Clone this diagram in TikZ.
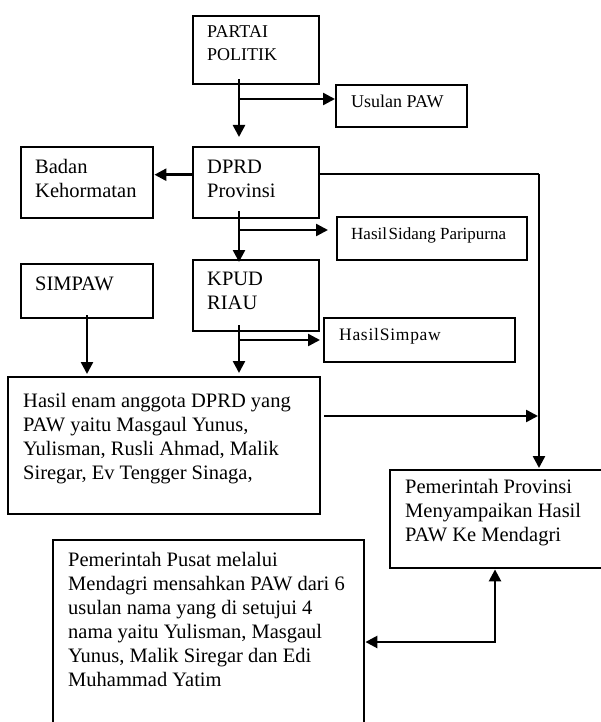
\documentclass[tikz,border=0pt]{standalone}
\usepackage{fontspec}
\setmainfont{Liberation Serif}
\newfontfamily\spacedserif[LetterSpace=4]{Liberation Serif}
\usetikzlibrary{arrows.meta,calc}
\tikzset{
  box/.style={draw=black, line width=2.4pt, rectangle, inner sep=0pt, anchor=north west},
  big/.style={inner sep=0pt, anchor=base west, align=left, font=\fontsize{20.5}{24}\selectfont},
  small/.style={inner sep=0pt, anchor=base west, align=left, font=\fontsize{18}{23}\selectfont},
  arr/.style={line width=2.5pt, -{Triangle[length=12pt,width=12pt]}},
  arrtwo/.style={line width=2.5pt, {Triangle[length=12pt,width=12pt]}-{Triangle[length=12pt,width=12pt]}},
  plain/.style={line width=2.5pt}
}
\begin{document}
\begin{tikzpicture}[x=1pt,y=-1pt]
\useasboundingbox (0,0) rectangle (601,722);
\clip (0,0) rectangle (601,722);
% boxes
\node[box, minimum width=126pt, minimum height=68pt] (partai) at (192,15) {};
\node[box, minimum width=131pt, minimum height=42pt] (usulan) at (335,84) {};
\node[box, minimum width=132pt, minimum height=71pt] (badan) at (20,146) {};
\node[box, minimum width=126pt, minimum height=71pt] (dprd) at (192,146) {};
\node[box, minimum width=190pt, minimum height=43pt] (sidang) at (336,216) {};
\node[box, minimum width=132pt, minimum height=54pt] (simpaw) at (20,263) {};
\node[box, minimum width=126pt, minimum height=71pt] (kpud) at (192,259) {};
\node[box, minimum width=191pt, minimum height=44pt] (hsimpaw) at (323,317) {};
\node[box, minimum width=312pt, minimum height=137pt] (hasil) at (7,376) {};
\node[box, minimum width=240pt, minimum height=98pt] (prov) at (389,469) {};
\node[box, minimum width=311pt, minimum height=220pt] (pusat) at (52,539) {};
% texts (base anchor = baseline of the last line)
\node[small] (tpartai) at (207,61) {PARTAI\\POLITIK};
\node[small] (tusulan) at (351,108) {Usulan PAW};
\node[big] (tbadan) at (35,197) {Badan\\Kehormatan};
\node[big] (tdprd) at (207,197) {DPRD\\Provinsi};
\node[small, font=\fontsize{17}{20}\selectfont] (tsidang) at (351,239) {Hasil\hspace{1.5pt}Sidang Paripurna};
\node[big] (tsimpaw) at (35,290) {SIMPAW};
\node[big] (tkpud) at (207,309) {KPUD\\RIAU};
\node[small, font=\spacedserif\fontsize{17.5}{20}\selectfont] (thsimpaw) at (339,340) {Hasil\hspace{1pt}Simpaw};
\node[big] (thasil) at (23,479) {Hasil enam anggota DPRD yang\\PAW yaitu Masgaul Yunus,\\Yulisman, Rusli Ahmad, Malik\\Siregar, Ev Tengger Sinaga,};
\node[big] (tprov) at (405,541) {Pemerintah Provinsi\\Menyampaikan Hasil\\PAW Ke Mendagri};
\node[big] (tpusat) at (68,686) {Pemerintah Pusat melalui\\Mendagri mensahkan PAW dari 6\\usulan nama yang di setujui 4\\nama yaitu Yulisman, Masgaul\\Yunus, Malik Siregar dan Edi\\Muhammad Yatim};
% connector helper coordinates
\coordinate (col) at (239,0);
\coordinate (scol) at (87,0);
\coordinate (pb) at (239,99);
\coordinate (db) at (239,230);
\coordinate (kb) at (239,340);
\coordinate (dr) at (539,174);
\coordinate (hr) at (324,416);
\coordinate (cc) at (495,642);
% connectors
\draw[arr] ($(col |- partai.south)+(0,-6)$) -- ($(col |- dprd.north)+(0,-9)$);
\draw[arr] (pb) -- (pb -| usulan.west);
\draw[arr] ($(dprd.west)+(0,-8)$) -- ($(badan.east)+(0,-8)$);
\draw[plain] (dprd.east |- dr) -- (dr);
\draw[arr] (dr) -- ($(dr |- prov.north)+(0,-1)$);
\draw[arr] ($(col |- dprd.south)+(0,-8)$) -- ($(col |- kpud.north)+(0,3)$);
\draw[arr] (db) -- ($(db -| sidang.west)+(-8,0)$);
\draw[arr] ($(scol |- simpaw.south)+(0,-4)$) -- ($(scol |- hasil.north)+(0,-2)$);
\draw[arr] ($(col |- kpud.south)+(0,-7)$) -- ($(col |- hasil.north)+(0,-3)$);
\draw[arr] (kb) -- ($(kb -| hsimpaw.west)+(-3,0)$);
\draw[arr] (hr) -- ($(hr -| dr)+(-1,0)$);
\draw[arrtwo] (pusat.east |- cc) -- (cc) -- (cc |- prov.south);
\end{tikzpicture}
\end{document}
